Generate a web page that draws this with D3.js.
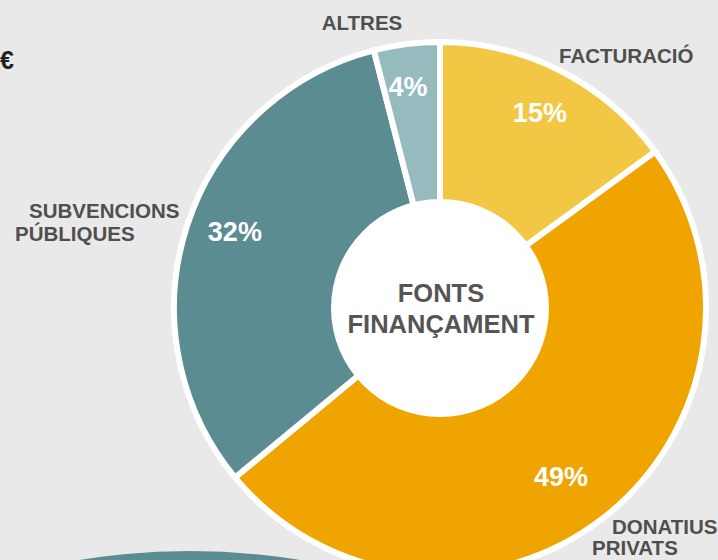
<!DOCTYPE html>
<html>
<head>
<meta charset="utf-8">
<script src="https://cdn.jsdelivr.net/npm/d3@7"></script>
<style>
  html, body { margin: 0; padding: 0; background: #e9e9e9; }
  svg { display: block; font-family: "Liberation Sans", Arial, sans-serif; font-weight: bold; }
</style>
</head>
<body>
<script>
// data
const categories = ["FACTURACIÓ", "DONATIUS PRIVATS", "SUBVENCIONS PÚBLIQUES", "ALTRES"];
const shares     = [15, 49, 32, 4];
const labelLines = [["FACTURACIÓ"], ["DONATIUS", "PRIVATS"], ["SUBVENCIONS", "PÚBLIQUES"], ["ALTRES"]];
const centerTitle = ["FONTS", "FINANÇAMENT"];

// styles / layout
const colors = ["#f2c744", "#efa400", "#5b8c91", "#95bbbf"];
const width  = 718, height = 560;
const cx = 440, cy = 308;
const outerR = 266, holeR = 109;
// percentage label radius and angle nudge (degrees) per slice
const pctRadius = [220, 207, 219, 224];
const pctNudge  = [0, 2, 2.5, -1];

// where each outside label line sits: [x, baseline y, anchor]
const labelPos = [
  [[559, 63, "start"]],
  [[612, 534, "start"], [592, 555, "start"]],
  [[29, 218, "start"], [15, 241, "start"]],
  [[362, 30, "middle"]]
];

const svg = d3.select("body").append("svg")
  .attr("width", width)
  .attr("height", height);

svg.append("rect").attr("width", width).attr("height", height).attr("fill", "#e9e9e9");

// teal shape peeking from the bottom
svg.append("circle")
  .attr("cx", 190).attr("cy", 551 + 680).attr("r", 680)
  .attr("fill", "#5b8c91");

// euro sign at the left border
svg.append("text")
  .attr("x", 0).attr("y", 69)
  .attr("font-size", 25)
  .attr("fill", "#222")
  .text("€");

const pie = d3.pie().sort(null).value(d => d)(shares);
const arc = d3.arc().innerRadius(0).outerRadius(outerR);

const g = svg.append("g").attr("transform", `translate(${cx},${cy})`);

g.selectAll("path.slice")
  .data(pie)
  .enter()
  .append("path")
  .attr("class", "slice")
  .attr("d", arc)
  .attr("fill", (d, i) => colors[i])
  .attr("stroke", "#fff")
  .attr("stroke-width", 6)
  .attr("stroke-linejoin", "round");

g.append("circle").attr("r", holeR).attr("fill", "#fff");

function pctPos(d, i) {
  const a = (d.startAngle + d.endAngle) / 2 + pctNudge[i] * Math.PI / 180;
  const r = pctRadius[i];
  return [Math.sin(a) * r, -Math.cos(a) * r];
}

g.selectAll("text.pct")
  .data(pie)
  .enter()
  .append("text")
  .attr("class", "pct")
  .attr("transform", (d, i) => `translate(${pctPos(d, i)})`)
  .attr("text-anchor", "middle")
  .attr("dy", "0.36em")
  .attr("font-size", 27)
  .attr("fill", "#fff")
  .text(d => d.data + "%");

g.selectAll("text.title")
  .data(centerTitle)
  .enter()
  .append("text")
  .attr("class", "title")
  .attr("x", 1)
  .attr("y", (d, i) => -6 + i * 31)
  .attr("text-anchor", "middle")
  .attr("font-size", 25.5)
  .attr("fill", "#555")
  .text(d => d);

// outside category labels
categories.forEach((c, i) => {
  labelLines[i].forEach((line, j) => {
    const [x, y, anchor] = labelPos[i][j];
    svg.append("text")
      .attr("x", x).attr("y", y)
      .attr("text-anchor", anchor)
      .attr("font-size", 20.5)
      .attr("fill", "#4f4f4f")
      .text(line);
  });
});
</script>
</body>
</html>
